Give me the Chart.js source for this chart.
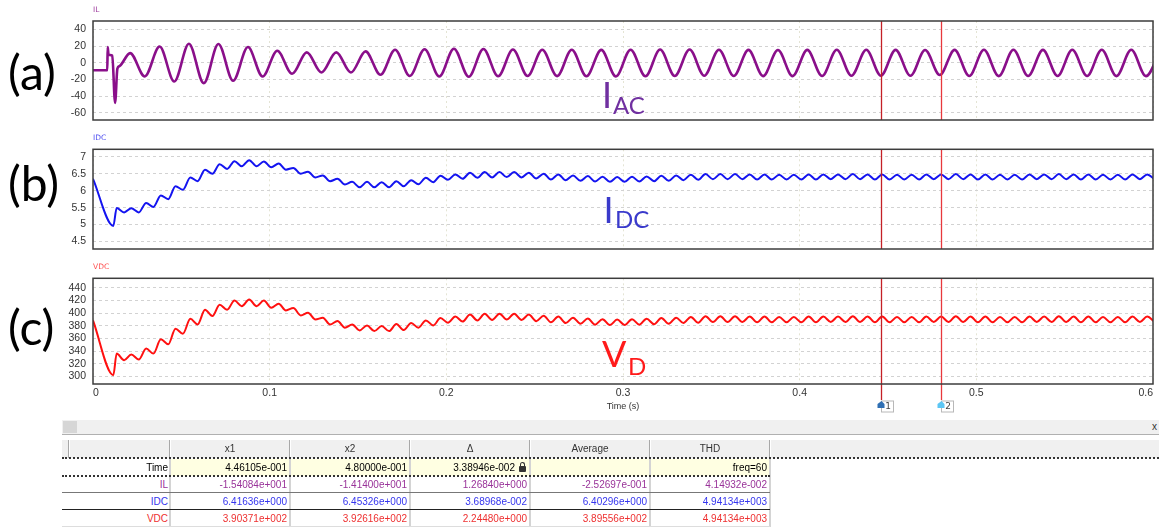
<!DOCTYPE html>
<html>
<head>
<meta charset="utf-8">
<script src="https://cdn.jsdelivr.net/npm/chart.js@4.4.1/dist/chart.umd.min.js"></script>
<style>
  body { margin: 0; background: #fff; width: 1159px; height: 529px; overflow: hidden; position: relative;
         font-family: "Liberation Sans", Arial, sans-serif; }
  canvas { position: absolute; left: 0; }
  #cursor-table div { position: absolute; box-sizing: border-box; white-space: nowrap; }
  .lock { display: inline-block; position: relative; width: 7px; height: 10px; margin-left: 3px; vertical-align: -1px; }
  .lock::before { content: ""; position: absolute; left: 1px; top: 0; width: 3px; height: 4px; border: 1px solid #333; border-bottom: none; border-radius: 3px 3px 0 0; }
  .lock::after { content: ""; position: absolute; left: 0; top: 4px; width: 7px; height: 6px; background: #333; border-radius: 1px; }
</style>
</head>
<body>
<canvas id="chart-il" width="1159" height="130" style="top:0px"></canvas>
<canvas id="chart-idc" width="1159" height="135" style="top:130px"></canvas>
<canvas id="chart-vdc" width="1159" height="157" style="top:258px"></canvas>
<div id="cursor-table"></div>
<script>
// time axis (s)
const TIME_TICKS = [0, 0.1, 0.2, 0.3, 0.4, 0.5, 0.6];
const IL_TICKS = [-60, -40, -20, 0, 20, 40];
const IDC_TICKS = [4.5, 5, 5.5, 6, 6.5, 7];
const VDC_TICKS = [300, 320, 340, 360, 380, 400, 420, 440];

// cursor positions (s)
const CURSOR_TIMES = [0.446105, 0.48];
const CURSOR_NAMES = ['1', '2'];

// IL: start-up transient, then one point per half cycle (60 Hz)
const IL_TIME = [0, 0.0081, 0.0083, 0.0088, 0.0109, 0.0125, 0.0138, 0.0150,
  0.0210, 0.0293, 0.0377, 0.0460, 0.0543, 0.0627, 0.0710, 0.0793, 0.0877, 0.0960,
  0.1043, 0.1127, 0.1210, 0.1293, 0.1377, 0.1460, 0.1543, 0.1627, 0.1710, 0.1793,
  0.1877, 0.1960, 0.2043, 0.2127, 0.2210, 0.2293, 0.2377, 0.2460, 0.2543, 0.2627,
  0.2710, 0.2793, 0.2877, 0.2960, 0.3043, 0.3127, 0.3210, 0.3293, 0.3377, 0.3460,
  0.3543, 0.3627, 0.3710, 0.3793, 0.3877, 0.3960, 0.4043, 0.4127, 0.4210, 0.4293,
  0.4377, 0.4460, 0.4543, 0.4627, 0.4710, 0.4793, 0.4877, 0.4960, 0.5043, 0.5127,
  0.5210, 0.5293, 0.5377, 0.5460, 0.5543, 0.5627, 0.5710, 0.5793, 0.5877, 0.5960,
  0.6043];
const IL_VALUE = [-9, -9, 18.8, 9.6, 8.5, -48, -7, -4,
  11.6, -16.4, 19.5, -22.4, 22.8, -24.4, 22.4, -21.6, 18.8, -16.4,
  14.4, -13.2, 12.4, -11.6, 12.4, -11.6, 13.6, -14.4, 15.6, -15.8,
  16.2, -16.5, 16.8, -16.8, 16.5, -16.2, 15.8, -15.8, 15.6, -16.0,
  15.6, -16.2, 15.4, -16.4, 15.6, -16.2, 15.8, -15.8, 15.8, -15.6,
  15.6, -15.8, 15.4, -16.0, 15.2, -16.0, 15.4, -15.8, 15.6, -15.6,
  15.6, -15.5, 15.4, -15.6, 15.2, -14.6, 15.4, -15.8, 15.6, -16.0,
  15.6, -15.8, 15.4, -15.8, 15.6, -15.8, 15.6, -16.0, 15.6, -16.0,
  15.6];

// IDC / VDC: start-up, then one point per ripple half period (120 Hz ripple)
const RIPPLE_TIME = [0, 0.0115,
  0.0134, 0.0176, 0.0217, 0.0259, 0.0301, 0.0342, 0.0384, 0.0426, 0.0467, 0.0509,
  0.0551, 0.0592, 0.0634, 0.0676, 0.0717, 0.0759, 0.0801, 0.0842, 0.0884, 0.0926,
  0.0967, 0.1009, 0.1051, 0.1092, 0.1134, 0.1176, 0.1217, 0.1259, 0.1301, 0.1342,
  0.1384, 0.1426, 0.1467, 0.1509, 0.1551, 0.1592, 0.1634, 0.1676, 0.1717, 0.1759,
  0.1801, 0.1842, 0.1884, 0.1926, 0.1967, 0.2009, 0.2051, 0.2092, 0.2134, 0.2176,
  0.2217, 0.2259, 0.2301, 0.2342, 0.2384, 0.2426, 0.2467, 0.2509, 0.2551, 0.2592,
  0.2634, 0.2676, 0.2717, 0.2759, 0.2801, 0.2842, 0.2884, 0.2926, 0.2967, 0.3009,
  0.3051, 0.3092, 0.3134, 0.3176, 0.3217, 0.3259, 0.3301, 0.3342, 0.3384, 0.3426,
  0.3467, 0.3509, 0.3551, 0.3592, 0.3634, 0.3676, 0.3717, 0.3759, 0.3801, 0.3842,
  0.3884, 0.3926, 0.3967, 0.4009, 0.4051, 0.4092, 0.4134, 0.4176, 0.4217, 0.4259,
  0.4301, 0.4342, 0.4384, 0.4426, 0.4467, 0.4509, 0.4551, 0.4592, 0.4634, 0.4676,
  0.4717, 0.4759, 0.4801, 0.4842, 0.4884, 0.4926, 0.4967, 0.5009, 0.5051, 0.5092,
  0.5134, 0.5176, 0.5217, 0.5259, 0.5301, 0.5342, 0.5384, 0.5426, 0.5467, 0.5509,
  0.5551, 0.5592, 0.5634, 0.5676, 0.5717, 0.5759, 0.5801, 0.5842, 0.5884, 0.5926,
  0.5967, 0.6009];
const IDC_VALUE = [6.35, 4.96,
  5.49, 5.36, 5.48, 5.36, 5.64, 5.52, 5.86, 5.75, 6.13, 6.03,
  6.39, 6.28, 6.62, 6.50, 6.78, 6.64, 6.87, 6.72, 6.90, 6.72,
  6.86, 6.69, 6.80, 6.62, 6.67, 6.50, 6.56, 6.39, 6.45, 6.28,
  6.35, 6.18, 6.26, 6.10, 6.26, 6.10, 6.25, 6.10, 6.28, 6.13,
  6.31, 6.19, 6.38, 6.25, 6.44, 6.32, 6.48, 6.35, 6.53, 6.38,
  6.55, 6.39, 6.55, 6.40, 6.55, 6.39, 6.53, 6.36, 6.50, 6.33,
  6.48, 6.31, 6.45, 6.29, 6.43, 6.27, 6.41, 6.26, 6.40, 6.26,
  6.41, 6.27, 6.42, 6.28, 6.44, 6.29, 6.45, 6.31, 6.47, 6.32,
  6.49, 6.34, 6.49, 6.34, 6.49, 6.34, 6.48, 6.33, 6.48, 6.33,
  6.47, 6.33, 6.47, 6.33, 6.48, 6.33, 6.48, 6.34, 6.48, 6.34,
  6.49, 6.34, 6.48, 6.33, 6.48, 6.33, 6.47, 6.33, 6.47, 6.33,
  6.48, 6.34, 6.48, 6.34, 6.49, 6.34, 6.48, 6.33, 6.48, 6.33,
  6.47, 6.33, 6.47, 6.33, 6.48, 6.34, 6.48, 6.34, 6.49, 6.34,
  6.48, 6.33, 6.48, 6.33, 6.47, 6.33, 6.47, 6.33, 6.48, 6.34,
  6.48, 6.34];
const VDC_VALUE = [388.5, 302,
  336, 325.5, 334.5, 326.6, 344, 336, 358.6, 350.7, 375.4, 367.5,
  391, 382, 405.3, 395.3, 413.2, 405.3, 420, 411, 421.6, 411,
  420, 408.5, 414.8, 404.3, 408, 396.4, 400.5, 390, 392.7, 382,
  387.4, 377, 382, 372.7, 380.6, 371.6, 379.5, 371.6, 382.7, 373.3,
  384.3, 377.0, 388.5, 380.6, 392.2, 384.9, 394.6, 386.7, 397.7, 388.5,
  398.9, 389.2, 398.9, 389.8, 398.9, 389.2, 397.7, 387.3, 395.9, 385.5,
  394.6, 384.3, 392.8, 383.1, 391.6, 381.8, 390.4, 381.2, 389.8, 381.2,
  390.4, 381.8, 391.0, 382.4, 392.2, 383.1, 392.8, 384.3, 394.0, 384.9,
  395.2, 386.1, 395.2, 386.1, 395.2, 386.1, 394.6, 385.5, 394.6, 385.5,
  394.0, 385.5, 394.0, 385.5, 394.6, 385.5, 394.6, 386.1, 394.6, 386.1,
  395.2, 386.1, 394.6, 385.5, 394.6, 385.5, 394.0, 385.5, 394.0, 385.5,
  394.6, 386.1, 394.6, 386.1, 395.2, 386.1, 394.6, 385.5, 394.6, 385.5,
  394.0, 385.5, 394.0, 385.5, 394.6, 386.1, 394.6, 386.1, 395.2, 386.1,
  394.6, 385.5, 394.6, 385.5, 394.0, 385.5, 394.0, 385.5, 394.6, 386.1,
  394.6, 386.1];

// cursor table
const TABLE_COLUMNS = ['x1', 'x2', '\u0394', 'Average', 'THD'];
const TABLE_ROW_NAMES = ['Time', 'IL', 'IDC', 'VDC'];
const TABLE_ROW_VALUES = [
  ['4.46105e-001', '4.80000e-001', '3.38946e-002', '', 'freq=60'],
  ['-1.54084e+001', '-1.41400e+001', '1.26840e+000', '-2.52697e-001', '4.14932e-002'],
  ['6.41636e+000', '6.45326e+000', '3.68968e-002', '6.40296e+000', '4.94134e+003'],
  ['3.90371e+002', '3.92616e+002', '2.24480e+000', '3.89556e+002', '4.94134e+003'],
];
const TABLE_ROW_COLORS = ['#000000', '#993399', '#3535ee', '#ee3030'];

Chart.defaults.font.family = '"Liberation Sans", Arial, sans-serif';

const panelDecor = {
    id: 'panelDecor',
    afterDatasetsDraw: function(chart, args, o) {
        'use strict';
        const ctx = chart.ctx;
        const a = chart.chartArea;
        const x = chart.scales.x;
        ctx.save();
        CURSOR_TIMES.forEach(function(t, i) {
            const px = Math.round(x.getPixelForValue(t)) + 0.5;
            ctx.strokeStyle = i == 0 ? '#c42026' : '#e8383c';
            ctx.lineWidth = 1.3;
            ctx.beginPath();
            ctx.moveTo(px, a.top);
            ctx.lineTo(px, o.flags ? a.bottom + 16 : a.bottom);
            ctx.stroke();
            if (o.flags) {
                const fy = a.bottom + 16;
                // number box
                ctx.fillStyle = '#fff';
                ctx.fillRect(px, fy + 1, 12, 11);
                ctx.strokeStyle = '#b8b8b8';
                ctx.lineWidth = 1;
                ctx.strokeRect(px, fy + 1, 12, 11);
                ctx.fillStyle = '#444';
                ctx.font = '9px "DejaVu Sans", sans-serif';
                ctx.textAlign = 'center';
                ctx.textBaseline = 'middle';
                ctx.fillText(CURSOR_NAMES[i], px + 6.5, fy + 6.5);
                // flag
                ctx.fillStyle = i == 0 ? '#2f6fb3' : '#5cc6f4';
                ctx.beginPath();
                ctx.moveTo(px - 4, fy + 8);
                ctx.lineTo(px - 4, fy + 4);
                ctx.lineTo(px, fy + 1);
                ctx.lineTo(px + 3, fy + 4);
                ctx.lineTo(px + 3, fy + 8);
                ctx.closePath();
                ctx.fill();
            }
        });
        ctx.restore();
    },
    afterDraw: function(chart, args, o) {
        'use strict';
        const ctx = chart.ctx;
        const a = chart.chartArea;
        ctx.save();
        ctx.strokeStyle = '#3c3c3c';
        ctx.lineWidth = 1.5;
        ctx.strokeRect(a.left, a.top, a.right - a.left, a.bottom - a.top);

        ctx.textAlign = 'left';
        ctx.textBaseline = 'alphabetic';
        ctx.fillStyle = o.nameColor;
        ctx.font = '7.5px "DejaVu Sans", sans-serif';
        ctx.fillText(o.name, a.left, a.top - 9.5);

        ctx.fillStyle = '#000';
        ctx.font = '48px Lato, sans-serif';
        ctx.fillText(o.tag.text, o.tag.x, o.tag.y);

        ctx.fillStyle = o.big.color;
        ctx.font = '36px Lato, sans-serif';
        ctx.fillText(o.big.main, o.big.x, o.big.y);
        ctx.font = '24px Lato, sans-serif';
        ctx.fillText(o.big.sub, o.big.subX, o.big.subY);
        ctx.restore();
    }
};

function panelChart(canvasId, p) {
    'use strict';
    const ctx = document.getElementById(canvasId).getContext('2d');
    return new Chart(ctx, {
        type: 'line',
        data: {
            datasets: [{
                data: p.time.map((t, i) => ({x: t, y: p.values[i]})),
                borderColor: p.color,
                borderWidth: p.lineWidth,
                pointRadius: 0,
                cubicInterpolationMode: 'monotone',
                fill: false,
            }],
        },
        options: {
            responsive: false,
            animation: false,
            devicePixelRatio: 1,
            layout: {padding: p.padding},
            scales: {
                x: {
                    type: 'linear',
                    min: 0,
                    max: 0.6,
                    afterBuildTicks: function(scale) {
                        scale.ticks = TIME_TICKS.map(v => ({value: v}));
                    },
                    afterFit: function(scale) {
                        scale.height = p.xHeight;
                        // let the last label hang over the right padding
                        scale.paddingLeft = 0;
                        scale.paddingRight = 0;
                    },
                    grid: {color: '#e4e4d4', drawTicks: false},
                    border: {display: false, dash: [2, 3]},
                    ticks: {
                        display: p.showTime,
                        autoSkip: false,
                        align: 'inner',
                        padding: 3,
                        color: '#333',
                        font: {size: 10.5},
                        maxRotation: 0,
                        callback: v => String(v),
                    },
                    title: {
                        display: p.showTime,
                        text: 'Time (s)',
                        color: '#333',
                        font: {size: 9},
                        padding: {top: 0, bottom: 2.6},
                    },
                },
                y: {
                    min: p.min,
                    max: p.max,
                    afterBuildTicks: function(scale) {
                        scale.ticks = p.ticks.map(v => ({value: v}));
                    },
                    afterFit: function(scale) {
                        scale.width = 93;
                        scale.paddingTop = 0;
                        scale.paddingBottom = 0;
                    },
                    grid: {color: '#d2d2d2', drawTicks: false},
                    border: {display: false, dash: [3, 3]},
                    ticks: {
                        autoSkip: false,
                        padding: 7,
                        color: '#333',
                        font: {size: 10.5},
                        callback: v => String(v),
                    },
                },
            },
            plugins: {
                legend: {display: false},
                tooltip: {enabled: false},
                panelDecor: p.decor,
            },
        },
        plugins: [panelDecor],
    });
}

panelChart('chart-il', {
    time: IL_TIME, values: IL_VALUE, color: '#8a0f8a', lineWidth: 2.6,
    min: -68.5, max: 50, ticks: IL_TICKS,
    padding: {top: 21, right: 6, bottom: 10, left: 0}, xHeight: 0, showTime: false,
    decor: {
        name: 'IL', nameColor: '#a040a0', flags: false,
        tag: {text: '(a)', x: 8, y: 90},
        big: {main: 'I', sub: 'AC', color: '#7030a0', x: 602, y: 108, subX: 613, subY: 113.5},
    },
});

panelChart('chart-idc', {
    time: RIPPLE_TIME, values: IDC_VALUE, color: '#1414f0', lineWidth: 2,
    min: 4.28, max: 7.22, ticks: IDC_TICKS,
    padding: {top: 19.3, right: 6, bottom: 16, left: 0}, xHeight: 0, showTime: false,
    decor: {
        name: 'IDC', nameColor: '#5050f0', flags: false,
        tag: {text: '(b)', x: 8, y: 71},
        big: {main: 'I', sub: 'DC', color: '#3a3acb', x: 603.5, y: 92.7, subX: 615, subY: 98},
    },
});

panelChart('chart-vdc', {
    time: RIPPLE_TIME, values: VDC_VALUE, color: '#ff1010', lineWidth: 2,
    min: 288, max: 455, ticks: VDC_TICKS,
    padding: {top: 20.3, right: 6, bottom: 0, left: 0}, xHeight: 31, showTime: true,
    decor: {
        name: 'VDC', nameColor: '#ff5050', flags: true,
        tag: {text: '(c)', x: 8, y: 87},
        big: {main: 'V', sub: 'D', color: '#ff1a1a', x: 602, y: 109, subX: 628, subY: 117},
    },
});

function buildTable() {
    'use strict';
    const root = document.getElementById('cursor-table');
    const add = function(css, text) {
        const d = document.createElement('div');
        d.style.cssText = css;
        if (text !== undefined) d.textContent = text;
        root.appendChild(d);
        return d;
    };
    const colLeft = i => 170 + i * 120;
    const rowTop = i => 459 + i * 17;

    // title strip
    add('left:62px;top:420px;width:1097px;height:15px;background:#f0f0f0;border-bottom:1px solid #b0b0b0;');
    add('left:63px;top:421px;width:14px;height:12px;background:#d6d6d6;');
    add('left:1152px;top:420px;font-size:10px;line-height:14px;color:#333;', 'x');

    // header row
    add('left:62px;top:440px;width:1097px;height:18px;background:#f0f0f0;');
    [69, 170, 290, 410, 530, 650, 770].forEach(function(x) {
        add('left:' + (x - 1) + 'px;top:440px;width:2px;height:18px;border-left:1px solid #a8a8a8;border-right:1px solid #fff;');
    });
    TABLE_COLUMNS.forEach(function(name, i) {
        add('left:' + colLeft(i) + 'px;top:440px;width:120px;height:18px;line-height:18px;text-align:center;font-size:10px;color:#333;', name);
    });
    add('left:62px;top:457px;width:1097px;height:2px;border-top:2px dotted #333;');

    // body rows
    add('left:170px;top:459px;width:600px;height:17px;background:#ffffe2;');
    TABLE_ROW_NAMES.forEach(function(name, r) {
        const top = rowTop(r);
        const color = TABLE_ROW_COLORS[r];
        add('left:62px;top:' + top + 'px;width:106px;height:17px;line-height:17px;text-align:right;font-size:10px;color:' + color + ';', name);
        TABLE_ROW_VALUES[r].forEach(function(v, c) {
            const cell = add('left:' + colLeft(c) + 'px;top:' + top + 'px;width:117px;height:17px;line-height:17px;text-align:right;font-size:10px;color:' + color + ';'
                + (r == 0 && c == 2 ? 'padding-right:12px;' : ''), v);
            if (r == 0 && c == 2) {
                const lock = document.createElement('span');
                lock.className = 'lock';
                lock.style.position = 'absolute';
                lock.style.right = '1px';
                lock.style.top = '3px';
                cell.appendChild(lock);
            }
        });
    });
    [170, 290, 410, 530, 650, 770].forEach(function(x) {
        add('left:' + (x - 1) + 'px;top:459px;width:2px;height:68px;background:#d4d4d4;');
    });
    add('left:62px;top:475px;width:708px;height:2px;border-top:2px dotted #333;');
    add('left:62px;top:492px;width:708px;height:1px;background:#777;');
    add('left:62px;top:509px;width:708px;height:1px;background:#222;');
    add('left:62px;top:526px;width:708px;height:1px;background:#ddd;');
}
buildTable();
</script>
</body>
</html>
